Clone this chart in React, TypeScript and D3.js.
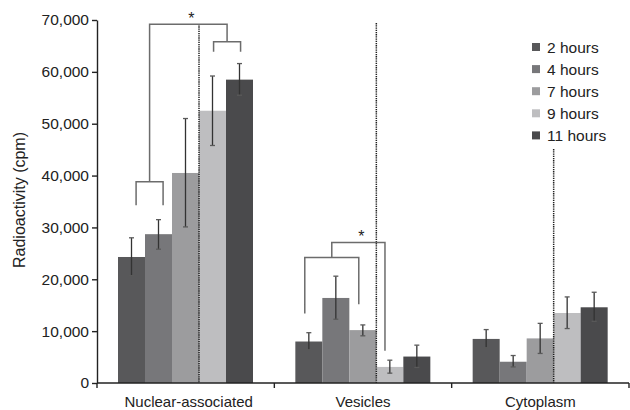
import { useEffect, useRef } from "react";
import * as d3 from "d3";

const categories = ["Nuclear-associated", "Vesicles", "Cytoplasm"];
const seriesNames = ["2 hours", "4 hours", "7 hours", "9 hours", "11 hours"];
const seriesColors = ["#58585a", "#77777a", "#9c9c9e", "#bebec0", "#4a4a4c"];

// means per category, order follows seriesNames
const nuclearMeans = [24300, 28700, 40500, 52500, 58500];
const vesicleMeans = [8000, 16400, 10200, 3100, 5100];
const cytoplasmMeans = [8500, 4100, 8600, 13500, 14600];

// error bar ends [low, high]
const nuclearErr = [[20700, 28000], [25800, 31500], [30100, 51000], [45800, 59200], [55500, 61600]];
const vesicleErr = [[6400, 9700], [12300, 20600], [9100, 11200], [1900, 4400], [3000, 7300]];
const cytoplasmErr = [[6800, 10300], [3100, 5300], [5700, 11500], [10500, 16600], [11900, 17500]];

const yTicks = [0, 10000, 20000, 30000, 40000, 50000, 60000, 70000];

// top of dotted separator before "9 hours" in each category
const dottedTops = [69200, 69400, 45100];

// significance brackets: pair brackets and connectors
const pairBrackets = [
  { cat: "Nuclear-associated", from: "2 hours", to: "4 hours", frac: 0.67, top: 38800, legFrom: 34300, legTo: 34300 },
  { cat: "Nuclear-associated", from: "9 hours", to: "11 hours", frac: 0.54, top: 65800, legFrom: 63900, legTo: 63900 },
  { cat: "Vesicles", from: "2 hours", to: "7 hours", frac: 0.35, top: 24200, legFrom: 13400, legTo: 15200 },
];
const connectors = [
  { from: 0, toPair: 1, toSeries: null, top: 69200, end: 65800 },
  { from: 2, toPair: null, toSeries: { cat: "Vesicles", s: "9 hours", frac: 0.32 }, top: 27100, end: 6200 },
];

const FONT = "'Liberation Sans', Arial, Helvetica, sans-serif";

export default function App() {
  const svgRef = useRef<SVGSVGElement>(null);

  useEffect(() => {
    const svg = d3.select(svgRef.current);
    svg.selectAll("*").remove();

    const means = [nuclearMeans, vesicleMeans, cytoplasmMeans];
    const errs = [nuclearErr, vesicleErr, cytoplasmErr];

    const y = d3.scaleLinear().domain([0, 70000]).range([383, 20]);
    const x0 = d3.scaleBand().domain(categories).range([97, 629]).padding(0);
    const x1 = d3.scaleBand().domain(seriesNames).range([21, 156]).padding(0);
    const bw = x1.bandwidth();

    // bars
    categories.forEach((cat, ci) => {
      const g = svg.append("g").attr("transform", `translate(${x0(cat)},0)`);
      seriesNames.forEach((s, si) => {
        g.append("rect")
          .attr("x", x1(s)!)
          .attr("y", y(means[ci][si]))
          .attr("width", bw)
          .attr("height", y(0) - y(means[ci][si]))
          .attr("fill", seriesColors[si]);
      });
    });

    // error bars
    categories.forEach((cat, ci) => {
      seriesNames.forEach((s, si) => {
        const cx = x0(cat)! + x1(s)! + bw / 2;
        const [lo, hi] = errs[ci][si];
        const g = svg.append("g").attr("stroke", "#333").attr("stroke-width", 1.3);
        g.append("line").attr("x1", cx).attr("x2", cx).attr("y1", y(lo)).attr("y2", y(hi));
        [lo, hi].forEach(v => {
          g.append("line").attr("x1", cx - 2.5).attr("x2", cx + 2.5).attr("y1", y(v)).attr("y2", y(v))
            .attr("stroke", "#5a5a5a");
        });
      });
    });

    // dotted separators
    categories.forEach((cat, ci) => {
      const xx = x0(cat)! + x1("9 hours")!;
      svg.append("line")
        .attr("x1", xx).attr("x2", xx)
        .attr("y1", y(dottedTops[ci])).attr("y2", y(0))
        .attr("stroke", "#1e1e1e").attr("stroke-width", 1.5)
        .attr("stroke-dasharray", "1.3,0.9");
    });

    // brackets
    const bx = (cat: string, s: string, frac: number) => x0(cat)! + x1(s)! + bw * frac;
    const bg = svg.append("g").attr("fill", "none").attr("stroke", "#6c6c6c").attr("stroke-width", 1.5);
    const mids: number[] = [];
    pairBrackets.forEach(b => {
      const xa = bx(b.cat, b.from, b.frac);
      const xb = bx(b.cat, b.to, b.frac);
      mids.push((xa + xb) / 2);
      bg.append("path").attr("d",
        `M${xa},${y(b.legFrom)}V${y(b.top)}H${xb}V${y(b.legTo)}`);
    });
    connectors.forEach(c => {
      const xa = mids[c.from];
      const xb = c.toPair !== null ? mids[c.toPair] : bx(c.toSeries!.cat, c.toSeries!.s, c.toSeries!.frac);
      bg.append("path").attr("d",
        `M${xa},${y(pairBrackets[c.from].top)}V${y(c.top)}H${xb}V${y(c.end)}`);
      svg.append("text")
        .attr("x", (xa + xb) / 2 + 3)
        .attr("y", y(c.top) - 0.5)
        .attr("text-anchor", "middle")
        .attr("font-family", FONT)
        .attr("font-size", 16)
        .attr("fill", "#222")
        .text("*");
    });

    // y axis
    const yAxis = d3.axisLeft(y)
      .tickValues(yTicks)
      .tickFormat(d3.format(","))
      .tickSizeInner(5)
      .tickSizeOuter(0)
      .tickPadding(3);
    const ya = svg.append("g").attr("transform", "translate(97,0)").call(yAxis);
    ya.select(".domain").attr("stroke", "#222").attr("stroke-width", 1.4);
    ya.selectAll(".tick line").attr("stroke", "#222").attr("stroke-width", 1.4);
    ya.selectAll("text").attr("font-family", FONT).attr("font-size", 15.5).attr("fill", "#222");

    // x axis
    svg.append("line").attr("x1", 97).attr("x2", 629).attr("y1", y(0)).attr("y2", y(0))
      .attr("stroke", "#222").attr("stroke-width", 1.4);
    [97, ...categories.map(c => x0(c)! + x0.bandwidth())].forEach(t => {
      svg.append("line").attr("x1", t).attr("x2", t).attr("y1", y(0)).attr("y2", y(0) + 5)
        .attr("stroke", "#222").attr("stroke-width", 1.4);
    });
    categories.forEach(cat => {
      svg.append("text")
        .attr("x", x0(cat)! + x0.bandwidth() / 2 + (cat === "Nuclear-associated" ? 3 : 0))
        .attr("y", 407)
        .attr("text-anchor", "middle")
        .attr("font-family", FONT)
        .attr("font-size", 15)
        .attr("fill", "#222")
        .text(cat);
    });

    // y title
    svg.append("text")
      .attr("transform", "translate(25,200) rotate(-90)")
      .attr("text-anchor", "middle")
      .attr("font-family", FONT)
      .attr("font-size", 16)
      .attr("fill", "#222")
      .text("Radioactivity (cpm)");

    // legend
    const leg = svg.append("g").attr("transform", "translate(532,47)");
    seriesNames.forEach((s, i) => {
      const row = leg.append("g").attr("transform", `translate(0,${i * 22.1})`);
      row.append("rect").attr("x", 0).attr("y", -4).attr("width", 8).attr("height", 8).attr("fill", seriesColors[i]);
      row.append("text")
        .attr("x", 15).attr("y", 5.5)
        .attr("font-family", FONT)
        .attr("font-size", 15.5)
        .attr("fill", "#222")
        .text(s);
    });
  }, []);

  return (
    <svg
      ref={svgRef}
      width={630}
      height={410}
      style={{ position: "absolute", left: 0, top: 0, background: "#fff" }}
    />
  );
}
